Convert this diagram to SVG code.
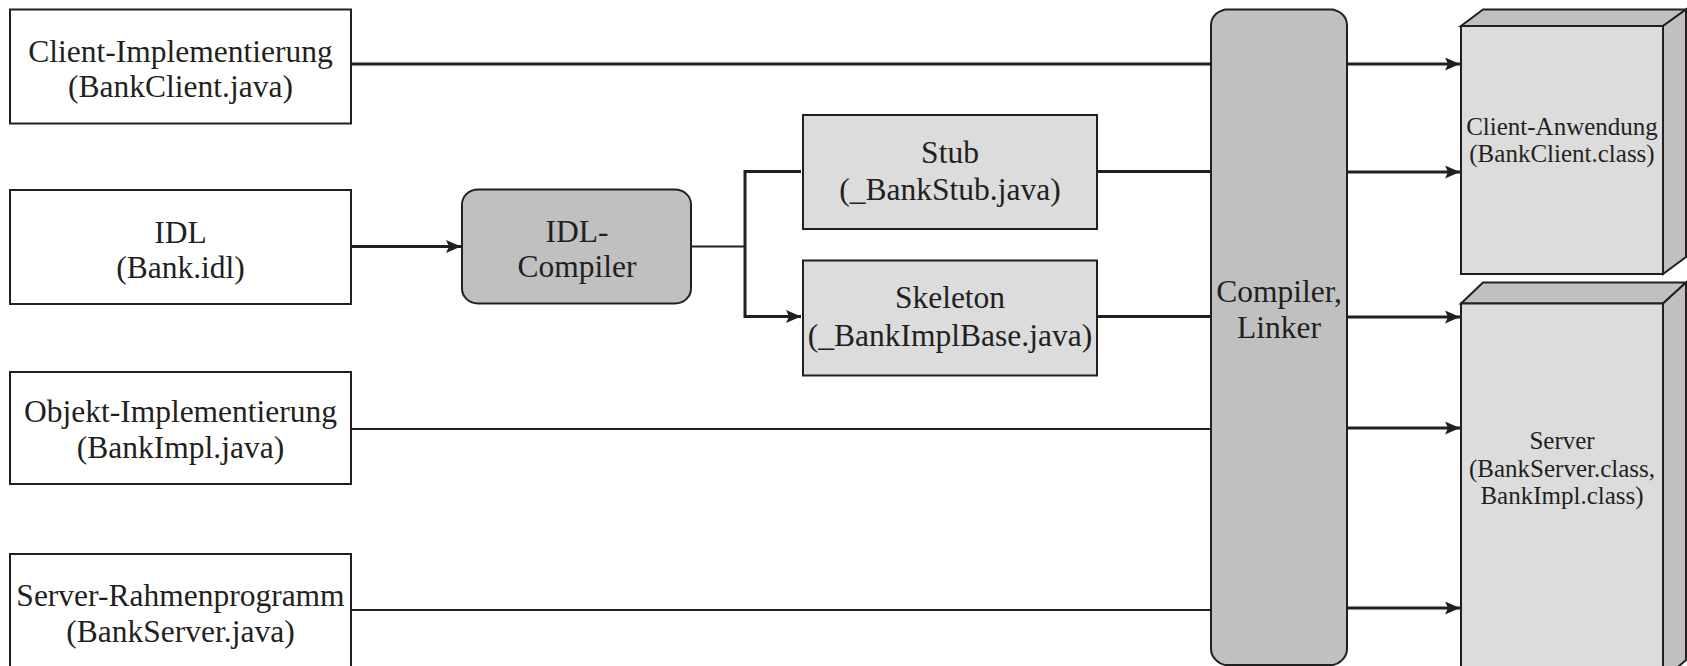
<svg xmlns="http://www.w3.org/2000/svg" width="1687" height="666" viewBox="0 0 1687 666">
<defs>
<style>
.box{fill:#ffffff;stroke:#231f20;stroke-width:2}
.lt{fill:#dcdcdc;stroke:#231f20;stroke-width:2}
.dk{fill:#c0c0c0;stroke:#231f20;stroke-width:2}
.t{font-size:31.5px}
.s{font-size:25px}
.thick{stroke:#231f20;stroke-width:3;fill:none}
.thin{stroke:#231f20;stroke-width:1.8;fill:none}
.arr{marker-end:url(#ah)}
</style>
<marker id="ah" markerUnits="userSpaceOnUse" markerWidth="16" markerHeight="14" refX="15" refY="6.5" orient="auto">
<path d="M0,0 L15,6.5 L0,13 L3,6.5 z" fill="#231f20"/>
</marker>
</defs>

<g id="connectors">
<line class="thick" x1="351" y1="64" x2="1212" y2="64"/>
<line class="thick arr" x1="351" y1="246.5" x2="461" y2="246.5"/>
<line class="thin" x1="691" y1="246.5" x2="745" y2="246.5"/>
<polyline class="thick arr" points="801,171.5 745,171.5 745,316.5 801,316.5"/>
<line class="thick" x1="1097" y1="171.5" x2="1212" y2="171.5"/>
<line class="thick" x1="1097" y1="316.5" x2="1212" y2="316.5"/>
<line class="thin" x1="351" y1="429" x2="1212" y2="429"/>
<line class="thin" x1="351" y1="610" x2="1212" y2="610"/>
<line class="thick arr" x1="1347" y1="64" x2="1460" y2="64"/>
<line class="thick arr" x1="1347" y1="172" x2="1460" y2="172"/>
<line class="thick arr" x1="1347" y1="317" x2="1460" y2="317"/>
<line class="thick arr" x1="1347" y1="428" x2="1460" y2="428"/>
<line class="thick arr" x1="1346" y1="608" x2="1460" y2="608"/>
</g>

<g font-family="'Liberation Serif', 'Times New Roman', Tinos, 'DejaVu Serif', serif" fill="#231f20" text-anchor="middle">
<g id="client-impl">
<rect class="box" x="10" y="9.5" width="341" height="114"/>
<text class="t" x="180.5" y="62">Client-Implementierung</text>
<text class="t" x="180.5" y="96.5">(BankClient.java)</text>
</g>

<g id="idl">
<rect class="box" x="10" y="190" width="341" height="114"/>
<text class="t" x="180.5" y="242.5">IDL</text>
<text class="t" x="180.5" y="277.5">(Bank.idl)</text>
</g>

<g id="objekt-impl">
<rect class="box" x="10" y="372" width="341" height="112"/>
<text class="t" x="180.5" y="421.5">Objekt-Implementierung</text>
<text class="t" x="180.5" y="458">(BankImpl.java)</text>
</g>

<g id="server-rahmen">
<rect class="box" x="10" y="554" width="341" height="130"/>
<text class="t" x="180.5" y="606">Server-Rahmenprogramm</text>
<text class="t" x="180.5" y="641.5">(BankServer.java)</text>
</g>

<g id="idl-compiler">
<rect class="dk" x="462" y="189.5" width="229" height="114" rx="16" ry="15"/>
<text class="t" x="577" y="241.5">IDL-</text>
<text class="t" x="577" y="277">Compiler</text>
</g>

<g id="stub">
<rect class="lt" x="803" y="115" width="294" height="114"/>
<text class="t" x="950" y="163">Stub</text>
<text class="t" x="950" y="200">(_BankStub.java)</text>
</g>

<g id="skeleton">
<rect class="lt" x="803" y="260.5" width="294" height="115"/>
<text class="t" x="950" y="307.5">Skeleton</text>
<text class="t" x="950" y="345.5">(_BankImplBase.java)</text>
</g>

<g id="compiler-linker">
<path class="dk" d="M1225,9.5 L1333,9.5 Q1338,11 1341,13 Q1347,18 1347,25 L1347,649 Q1347,656 1341,661 Q1338,664 1333,665 L1225,665 Q1220,664 1217,661 Q1211,656 1211,649 L1211,25 Q1211,18 1217,13 Q1220,11 1225,9.5 z"/>
<text class="t" x="1279" y="302">Compiler,</text>
<text class="t" x="1279" y="338">Linker</text>
</g>

<g id="client-app">
<polygon class="dk" points="1461,26 1483,9.5 1686,9.5 1663,26"/>
<polygon class="dk" points="1663,26 1686,9.5 1686,257 1663,274"/>
<rect class="lt" x="1461" y="26" width="202" height="248"/>
<text class="s" x="1562" y="135">Client-Anwendung</text>
<text class="s" x="1562" y="162">(BankClient.class)</text>
</g>

<g id="server-app">
<polygon class="dk" points="1461,303.5 1483,282.5 1686,282.5 1663,303.5"/>
<polygon class="dk" points="1663,303.5 1686,282.5 1686,660 1663,680"/>
<rect class="lt" x="1461" y="303.5" width="202" height="380"/>
<text class="s" x="1562" y="448.5">Server</text>
<text class="s" x="1562" y="476.5">(BankServer.class,</text>
<text class="s" x="1562" y="503.5">BankImpl.class)</text>
</g>
</g>
</svg>
